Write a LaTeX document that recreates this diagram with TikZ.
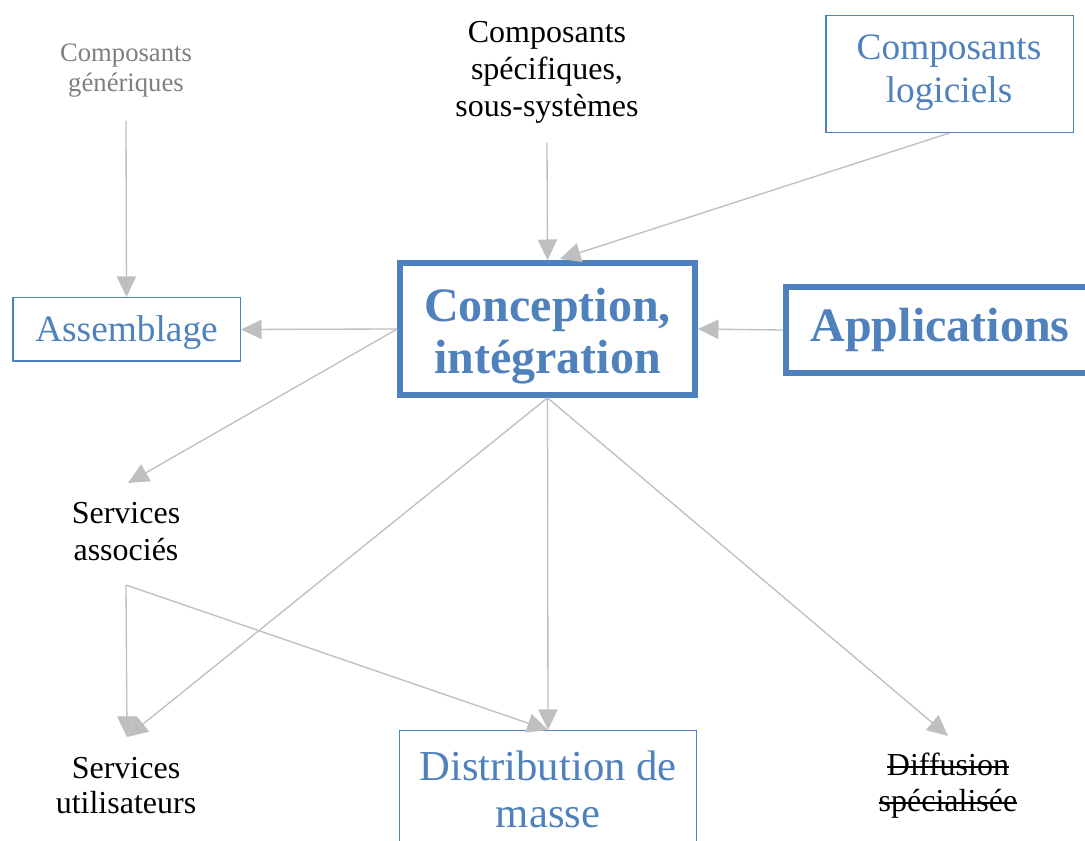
\documentclass[tikz,border=0pt]{standalone}
\usepackage{fontspec}
\setmainfont{Liberation Serif}
\usetikzlibrary{arrows.meta}
\definecolor{bblue}{HTML}{4F81BD}
\definecolor{lgray}{HTML}{BFBFBF}
\definecolor{tgray}{HTML}{7F7F7F}
\newcommand\mystrike[1]{\setbox0\hbox{#1}\rlap{\rule[0.22em]{\wd0}{0.05em}}\box0}
\tikzset{
  arr/.style={draw=lgray, line width=1pt, -{Triangle[length=15.5pt,width=14.5pt]}},
  txt/.style={anchor=base, inner sep=0pt, align=center},
  thinbox/.style={draw=bblue, line width=1.1pt, inner sep=0pt},
  thickbox/.style={draw=bblue, line width=4.25pt, inner sep=0pt},
}
\begin{document}
\begin{tikzpicture}[x=0.75pt, y=-0.75pt]
\useasboundingbox (0,0) rectangle (1085,841);
% boxes
\node[thinbox, minimum width=185.6pt, minimum height=87.4pt] (logi) at (949.5,74) {};
\node[thickbox, minimum width=221.25pt, minimum height=99pt] (conc) at (547.5,329) {};
\node[thickbox, minimum width=231.75pt, minimum height=64.5pt] (appl) at (940.5,330) {};
\node[thinbox, minimum width=170.6pt, minimum height=47.6pt] (assem) at (126.5,329.5) {};
\node[thinbox, minimum width=222.4pt, minimum height=97.5pt] (dist) at (548,795.75) {};
% texts (anchor base = baseline of last line)
\node[txt, text=tgray, font=\fontsize{20pt}{22.5pt}\selectfont] (gen) at (126,91.7) {Composants\\génériques};
\node[txt, font=\fontsize{24pt}{27.75pt}\selectfont] (spec) at (547,117) {Composants\\spécifiques,\\sous-systèmes};
\node[txt, text=bblue, font=\fontsize{28pt}{32.25pt}\selectfont] (logit) at (949,103) {Composants\\logiciels};
\node[txt, text=bblue, font=\bfseries\fontsize{36pt}{39.75pt}\selectfont] (conct) at (547.5,374) {Conception,\\intégration};
\node[txt, text=bblue, font=\bfseries\fontsize{36pt}{39.75pt}\selectfont] (applt) at (940,342) {Applications};
\node[txt, text=bblue, font=\fontsize{28pt}{32.25pt}\selectfont] (assemt) at (126.5,342) {Assemblage};
\node[txt, font=\fontsize{24pt}{28pt}\selectfont] (sassoc) at (126,560.7) {Services\\associés};
\node[txt, font=\fontsize{24pt}{26.25pt}\selectfont] (suser) at (126,813) {Services\\utilisateurs};
\node[txt, text=bblue, font=\fontsize{32pt}{35.25pt}\selectfont] (distt) at (548,827) {Distribution de\\masse};
\node[txt, font=\fontsize{24pt}{27pt}\selectfont] (diff) at (948,811) {\mystrike{Diffusion}\\\mystrike{spécialisée}};
% connector ends
\coordinate (genc) at (126,121);
\coordinate (specc) at (547,143);
\coordinate (concr) at (560,259);
\coordinate (sat) at (128,483);
\coordinate (sac) at (126,585);
\coordinate (suc) at (127,737);
\coordinate (difc) at (948,736);
% connectors
\draw[arr] (genc) -- (assem.north);
\draw[arr] (specc) -- (conc.north);
\draw[arr] (logi.south) -- (concr);
\draw[arr] (appl.west) -- (conc.east);
\draw[arr] (conc.west) -- (assem.east);
\draw[arr] (conc.west) -- (sat);
\draw[arr] (conc.south) -- (dist.north);
\draw[arr] (conc.south) -- (difc);
\draw[arr] (conc.south) -- (suc);
\draw[arr] (sac) -- (suc);
\draw[arr] (sac) -- (dist.north);
\end{tikzpicture}
\end{document}
